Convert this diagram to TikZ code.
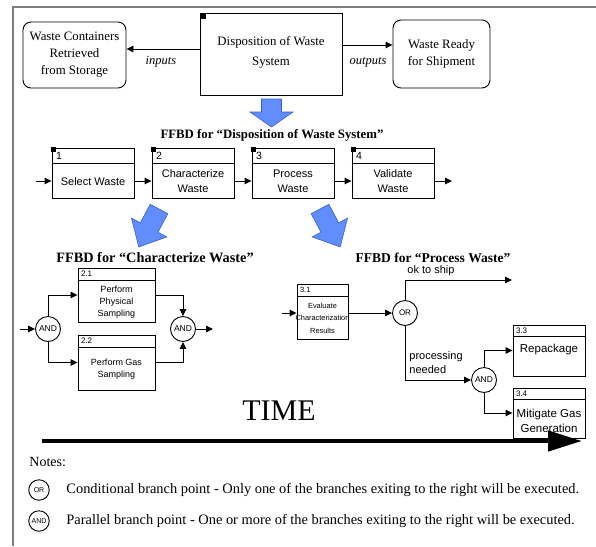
\documentclass[tikz,border=0pt]{standalone}
\usepackage{fontspec}
\setmainfont{Liberation Serif}
\setsansfont{Liberation Sans}
\usetikzlibrary{arrows.meta,calc}
\definecolor{bluefill}{RGB}{97,141,255}
\definecolor{blueline}{RGB}{55,95,205}
\definecolor{framegray}{RGB}{125,125,125}
\begin{document}
\begin{tikzpicture}[x=1pt,y=-1pt,line width=0.9pt,
  arr/.style={-{Triangle[length=7pt,width=6.5pt]}},
  rbox/.style={draw,rounded corners=8pt,inner sep=0,align=center,font=\fontsize{12.8}{17}\selectfont},
  fbox/.style={draw,inner sep=0},
  gate/.style={draw,circle,minimum size=25pt,inner sep=0,font=\sffamily\fontsize{8.5}{9}\selectfont},
  ngate/.style={draw,circle,minimum size=20.5pt,inner sep=0,font=\sffamily\fontsize{7}{7}\selectfont},
  numlbl/.style={anchor=west,inner sep=0,font=\sffamily\fontsize{10.5}{11}\selectfont},
  snumlbl/.style={anchor=west,inner sep=0,font=\sffamily\fontsize{8}{9}\selectfont},
  btxt/.style={align=center,inner sep=0,font=\sffamily\fontsize{11}{15}\selectfont},
  stxt/.style={align=center,inner sep=0,font=\sffamily\fontsize{9}{12}\selectfont},
  xstxt/.style={align=center,inner sep=0,font=\sffamily\fontsize{7.4}{12.5}\selectfont},
  mtxt/.style={align=center,inner sep=0,font=\sffamily\fontsize{11.5}{15}\selectfont},
  ltxt/.style={anchor=west,inner sep=0,font=\sffamily\fontsize{11}{13}\selectfont},
  title/.style={inner sep=0,font=\bfseries\fontsize{13.5}{15}\selectfont},
  itl/.style={inner sep=0,font=\itshape\fontsize{12.5}{14}\selectfont},
  note/.style={anchor=west,inner sep=0,font=\fontsize{14.4}{16}\selectfont},
  blk/.style={fill=black,draw=none},
  bluearrow/.style={fill=bluefill,draw=blueline,line width=0.6pt}
]
\useasboundingbox (0,0) rectangle (596,546);
% frame
\draw[framegray,line width=1.4pt] (13,546) -- (13,7) -- (596,7);

% ---- top level
\node[rbox,minimum width=103pt,minimum height=66pt] (lb) at (74.5,55) {Waste Containers\\Retrieved\\from Storage};
\node[fbox,minimum width=142pt,minimum height=82pt] (mb) at (271,54) {};
\node[inner sep=0,align=center,font=\fontsize{12.8}{20}\selectfont] (mbt) at (271,52) {Disposition of Waste\\System};
\fill[blk] (mb.north west) rectangle ++(6,6);
\node[rbox,minimum width=97pt,minimum height=68pt] (rb) at (441.5,54) {Waste Ready\\for Shipment};
\draw[arr] (mb.west |- 0,49) -- (lb.east |- 0,49);
\draw[arr] (mb.east |- 0,45) -- (rb.west |- 0,45);
\node[itl] (lin) at (161,62) {inputs};
\node[itl] (lout) at (368,62) {outputs};

% blue arrows
\draw[bluearrow] (261.5,99) -- (281.5,99) -- (281.5,112) -- (293,112) -- (271.5,127) -- (250,112) -- (261.5,112) -- cycle;
\begin{scope}[shift={(159,209)},rotate=-28]
\draw[bluearrow] (-10,0) -- (10,0) -- (10,21) -- (20,21) -- (0,43) -- (-20,21) -- (-10,21) -- cycle;
\end{scope}
\begin{scope}[shift={(320,209)},rotate=28]
\draw[bluearrow] (-10,0) -- (10,0) -- (10,21) -- (20,21) -- (0,43) -- (-20,21) -- (-10,21) -- cycle;
\end{scope}

% ---- FFBD for Disposition
\node[title,font=\bfseries\fontsize{12.8}{15}\selectfont] (t1) at (272,135) {FFBD for “Disposition of Waste System”};
\foreach \i/\cx/\txt in {1/93/Select Waste,2/193/Characterize\\Waste,3/293/Process\\Waste,4/393/Validate\\Waste}{
  \node[fbox,minimum width=82pt,minimum height=50pt] (f\i) at (\cx,173) {};
  \draw (f\i.north west) ++(0,16) -- ($(f\i.north east)+(0,16)$);
  \fill[blk] ($(f\i.north west)+(-1,-1)$) rectangle ++(5,5);
  \node[numlbl] (n\i) at ($(f\i.north west)+(4,8.5)$) {\i};
  \node[btxt] (x\i) at (\cx,181.5) {\txt};
}
\coordinate (fin) at (36,181);
\coordinate (fout) at (452,181);
\draw[arr] (fin) -- (f1.west |- fin);
\draw[arr] (f1.east |- fin) -- (f2.west |- fin);
\draw[arr] (f2.east |- fin) -- (f3.west |- fin);
\draw[arr] (f3.east |- fin) -- (f4.west |- fin);
\draw[arr] (f4.east |- fin) -- (fout);

% ---- FFBD for Characterize Waste
\node[title,font=\bfseries\fontsize{14.3}{15}\selectfont] (t2) at (155,258) {FFBD for “Characterize Waste”};
\node[fbox,minimum width=77pt,minimum height=54pt] (c1) at (116.5,295) {};
\draw (c1.north west) ++(0,13) -- ($(c1.north east)+(0,13)$);
\node[snumlbl] (cn1) at ($(c1.north west)+(3,6.5)$) {2.1};
\node[stxt] (ct1) at (116.5,302.5) {Perform\\Physical\\Sampling};
\node[fbox,minimum width=77pt,minimum height=55pt] (c2) at (116.5,362.5) {};
\draw (c2.north west) ++(0,12.5) -- ($(c2.north east)+(0,12.5)$);
\node[snumlbl] (cn2) at ($(c2.north west)+(3,6.5)$) {2.2};
\node[stxt] (ct2) at (116.5,369.5) {Perform Gas\\Sampling};
\node[gate] (a1) at (48,329) {AND};
\node[gate] (a2) at (183,329) {AND};
\coordinate (cin) at (20,329);
\coordinate (cout) at (213,329);
\draw[arr] (cin) -- (a1);
\draw[arr] (a1.north) |- (c1.west);
\draw[arr] (a1.south) |- (c2.west);
\draw[arr] (c1.east) -| (a2.north);
\draw[arr] (c2.east) -| (a2.south);
\draw[arr] (a2.east) -- (cout);

% ---- FFBD for Process Waste
\node[title] (t3) at (433,258) {FFBD for “Process Waste”};
\node[fbox,minimum width=51pt,minimum height=55pt] (p1) at (322.5,312) {};
\draw (p1.north west) ++(0,12) -- ($(p1.north east)+(0,12)$);
\node[snumlbl,font=\sffamily\fontsize{7.5}{8}\selectfont] (pn1) at ($(p1.north west)+(3,6)$) {3.1};
\node[xstxt] (pt1) at (322.5,318) {Evaluate\\Characterization\\Results};
\node[gate,font=\sffamily\fontsize{8}{9}\selectfont] (o1) at (405,313) {OR};
\node[gate] (a3) at (484,380) {AND};
\node[fbox,minimum width=72pt,minimum height=51pt] (p3) at (549,350.5) {};
\draw (p3.north west) ++(0,12) -- ($(p3.north east)+(0,12)$);
\node[snumlbl] (pn3) at ($(p3.north west)+(3,6)$) {3.3};
\node[mtxt] (pt3) at (549,350) {Repackage};
\node[fbox,minimum width=72pt,minimum height=50pt] (p4) at (549,413) {};
\draw (p4.north west) ++(0,12) -- ($(p4.north east)+(0,12)$);
\node[snumlbl] (pn4) at ($(p4.north west)+(3,6)$) {3.4};
\node[mtxt] (pt4) at (549,420.5) {Mitigate Gas\\Generation};
\coordinate (pin) at (282,313);
\coordinate (ok) at (512,280);
\draw[arr] (pin) -- (p1.west |- pin);
\draw[arr] (p1.east |- pin) -- (o1.west);
\draw[arr] (o1.north) |- (ok);
\draw[arr] (o1.south) |- (a3.west);
\draw[arr] (a3.north) |- (p3.west);
\draw[arr] (a3.south) |- (p4.west);
\node[ltxt] (lok) at (407,271) {ok to ship};
\node[ltxt,align=left,font=\sffamily\fontsize{11}{14}\selectfont] (lproc) at (409,363) {processing\\needed};

% ---- TIME
\coordinate (tA) at (42,441);
\coordinate (tB) at (582,441);
\draw[line width=4.5pt,-{Triangle[length=34pt,width=20pt]}] (tA) -- (tB);
\node[inner sep=0,font=\fontsize{30}{30}\selectfont] (time) at (279,411) {TIME};

% ---- Notes
\node[note,font=\fontsize{14}{16}\selectfont] (notes) at (29,462) {Notes:};
\node[ngate] (nor) at (39,490) {OR};
\node[note] (nort) at (66,490) {Conditional branch point - Only one of the branches exiting to the right will be executed.};
\node[ngate] (nand) at (39,521) {AND};
\node[note] (nandt) at (66,521) {Parallel branch point - One or more of the branches exiting to the right will be executed.};
\end{tikzpicture}
\end{document}
